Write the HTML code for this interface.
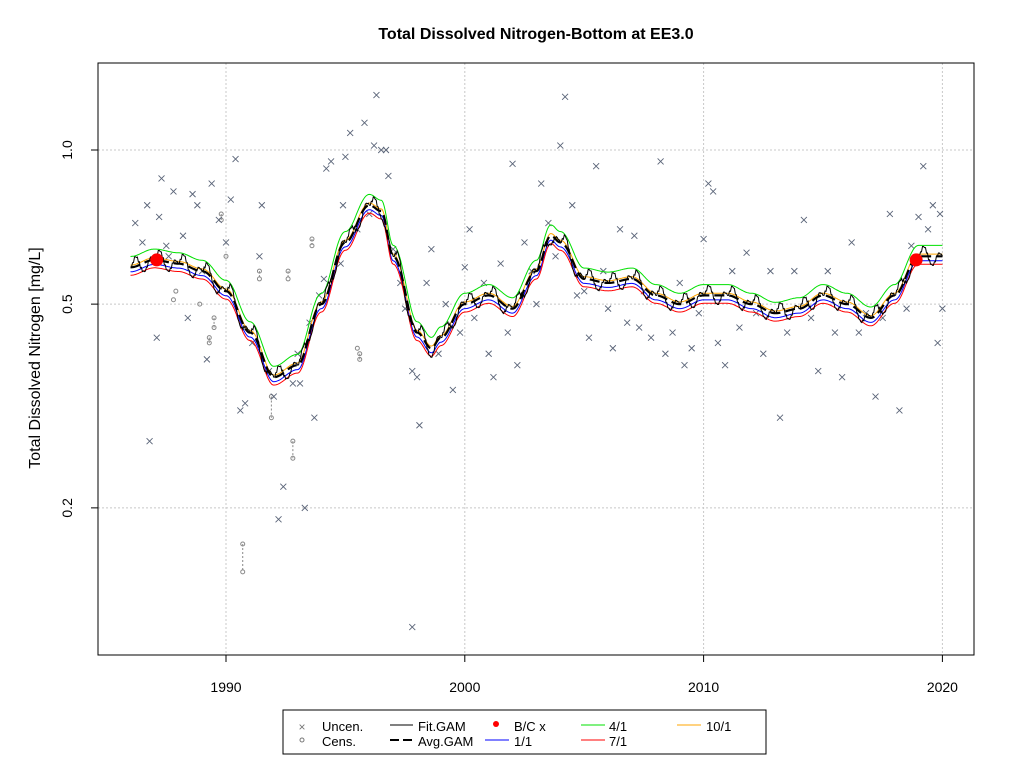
<!DOCTYPE html>
<html><head><meta charset="utf-8"><style>
body{margin:0;background:#fff;}
svg{font-family:"Liberation Sans",Arial,sans-serif;}
</style></head><body>
<svg id="chart" width="1024" height="768" xmlns="http://www.w3.org/2000/svg">
<rect width="1024" height="768" fill="#fff"/>
<text x="536" y="39" text-anchor="middle" font-size="16" font-weight="bold">Total Dissolved Nitrogen-Bottom at EE3.0</text>
<g id="grid"></g>
<g id="plot"></g>
<rect x="98" y="63" width="876" height="592" fill="none" stroke="#000"/>
<g id="axes"></g>
<text transform="translate(40,358) rotate(-90)" text-anchor="middle" font-size="16">Total Dissolved Nitrogen [mg/L]</text>
<g>
<rect x="283" y="710" width="483" height="44" fill="#fff" stroke="#000"/>
<text x="302" y="731" font-size="12" fill="#777" text-anchor="middle">×</text>
<text x="322" y="731" font-size="13">Uncen.</text>
<circle cx="302" cy="740" r="2" fill="none" stroke="#777"/>
<text x="322" y="746" font-size="13">Cens.</text>
<line x1="390" y1="725" x2="413" y2="725" stroke="#000"/>
<text x="418" y="731" font-size="13">Fit.GAM</text>
<line x1="390" y1="740" x2="413" y2="740" stroke="#000" stroke-width="2" stroke-dasharray="9,4"/>
<text x="418" y="746" font-size="13">Avg.GAM</text>
<circle cx="496" cy="724" r="3" fill="red"/>
<text x="514" y="731" font-size="13">B/C x</text>
<line x1="485" y1="740" x2="509" y2="740" stroke="blue"/>
<text x="514" y="746" font-size="13">1/1</text>
<line x1="581" y1="725" x2="605" y2="725" stroke="#00e000"/>
<text x="609" y="731" font-size="13">4/1</text>
<line x1="581" y1="740" x2="605" y2="740" stroke="red"/>
<text x="609" y="746" font-size="13">7/1</text>
<line x1="677" y1="725" x2="701" y2="725" stroke="orange"/>
<text x="706" y="731" font-size="13">10/1</text>
</g>
</svg>
<script>
const yearTicks=[1990,2000,2010,2020];
const yTicks=[0.2,0.5,1.0];
const yTickLabels=["0.2","0.5","1.0"];
const avgYears=[1986,1987,1988,1989,1990,1991,1992,1993,1994,1995,1996,1996.5,1997,1998,1998.6,1999,2000,2001,2002,2003,2003.6,2004,2005,2006,2007,2008,2009,2010,2011,2012,2013,2014,2015,2016,2017,2018,2019,2020];
const avgVals=[0.59,0.61,0.60,0.58,0.53,0.44,0.36,0.38,0.50,0.66,0.78,0.76,0.62,0.44,0.41,0.43,0.50,0.52,0.49,0.58,0.68,0.66,0.56,0.55,0.56,0.52,0.50,0.52,0.52,0.50,0.48,0.49,0.52,0.50,0.47,0.52,0.62,0.62];
const seasonFactor=[1.0,1.02,1.045,1.04,1.015,0.985,0.965,0.96,0.975,1.0,1.015,1.01];
const f11=0.98,f41=1.05,f71=0.965,f101=1.01;
const bcYears=[1987.1,2018.9];
const bcVals=[0.61,0.61];
const uncYears=[1986.2,1986.5,1986.7,1986.8,1987.1,1987.2,1987.3,1987.5,1987.6,1987.8,1988.2,1988.4,1988.6,1988.8,1989,1989.2,1989.4,1989.7,1990,1990.2,1990.4,1990.6,1990.8,1991.1,1991.4,1991.5,1991.8,1992.0,1992.2,1992.4,1992.8,1993,1993.1,1993.3,1993.5,1993.7,1993.9,1994.1,1994.2,1994.4,1994.8,1994.9,1995,1995.2,1995.5,1995.8,1996.0,1996.2,1996.3,1996.5,1996.7,1996.8,1997,1997.3,1997.5,1997.8,1998,1998.1,1998.4,1998.6,1998.9,1999.2,1999.5,1999.8,2000,2000.2,2000.4,2000.8,2001,2001.2,2001.5,2001.8,2002,2002.2,2002.5,2002.8,2003,2003.2,2003.5,2003.8,2004,2004.2,2004.5,2004.7,2005,2005.2,2005.5,2005.8,2006,2006.2,2006.5,2006.8,2007.1,2007.3,2007.5,2007.8,2008.2,2008.4,2008.7,2009.0,2009.2,2009.5,2009.8,2010,2010.2,2010.4,2010.6,2010.9,2011.2,2011.5,2011.8,2012.2,2012.5,2012.8,2013.2,2013.5,2013.8,2014.2,2014.5,2014.8,2015.2,2015.5,2015.8,2016.2,2016.5,2016.8,2017.2,2017.5,2017.8,2018.2,2018.5,2018.7,2019,2019.2,2019.4,2019.6,2019.8,2020,2019.9,1997.8];
const uncVals=[0.72,0.66,0.78,0.27,0.43,0.74,0.88,0.65,0.62,0.83,0.68,0.47,0.82,0.78,0.58,0.39,0.86,0.73,0.66,0.80,0.96,0.31,0.32,0.42,0.62,0.78,0.37,0.33,0.19,0.22,0.35,0.40,0.35,0.20,0.46,0.30,0.52,0.56,0.92,0.95,0.60,0.78,0.97,1.08,0.70,1.13,0.75,1.02,1.28,1.0,1.0,0.89,0.64,0.55,0.49,0.37,0.36,0.29,0.55,0.64,0.40,0.50,0.34,0.44,0.59,0.70,0.47,0.55,0.40,0.36,0.60,0.44,0.94,0.38,0.66,0.58,0.50,0.86,0.72,0.62,1.02,1.27,0.78,0.52,0.53,0.43,0.93,0.58,0.49,0.41,0.70,0.46,0.68,0.45,0.53,0.43,0.95,0.40,0.44,0.55,0.38,0.41,0.48,0.67,0.86,0.83,0.42,0.38,0.58,0.45,0.63,0.48,0.40,0.58,0.30,0.44,0.58,0.73,0.47,0.37,0.58,0.44,0.36,0.66,0.44,0.48,0.33,0.47,0.75,0.31,0.49,0.65,0.74,0.93,0.70,0.78,0.42,0.49,0.75,0.117];
const cenYears=[1990.7,1988.9,1989.3,1989.5,1989.8,1990.0,1991.4,1991.9,1992.6,1992.8,1993.6,1995.5,1995.6,1987.9,1987.8];
const cenHi=[0.17,0.50,0.43,0.47,0.75,0.62,0.58,0.33,0.58,0.27,0.67,0.41,0.40,0.53,0.51];
const cenLo=[0.15,0.50,0.42,0.45,0.73,0.62,0.56,0.30,0.56,0.25,0.65,0.41,0.39,0.53,0.51];

const NS="http://www.w3.org/2000/svg";
const X=yr=>226+(yr-1990)*23.88;
const Y=v=>150-512*Math.log10(v);
function mk(tag,attrs,parent){const e=document.createElementNS(NS,tag);for(const k in attrs)e.setAttribute(k,attrs[k]);parent.appendChild(e);return e;}
const grid=document.getElementById('grid'),plot=document.getElementById('plot'),axes=document.getElementById('axes');
yearTicks.forEach(t=>{
 const g=mk('line',{x1:X(t),x2:X(t),y1:63,y2:655,stroke:'#c8c8c8','stroke-dasharray':'2,2'},grid);
 
 
 const tk=mk('line',{x1:X(t),x2:X(t),y1:655,y2:662,stroke:'#000'},axes);
 
 
 const l=mk('text',{x:X(t),y:692,'text-anchor':'middle','font-size':'14'},axes);l.textContent=t;
 
 
});
yTicks.forEach((t,i)=>{
 const g=mk('line',{x1:98,x2:974,y1:Y(t),y2:Y(t),stroke:'#c8c8c8','stroke-dasharray':'2,2'},grid);
 
 
 const tk=mk('line',{x1:91,x2:98,y1:Y(t),y2:Y(t),stroke:'#000'},axes);
 
 
 const l=mk('text',{transform:`translate(72,${Y(t)}) rotate(-90)`,'text-anchor':'middle','font-size':'14'},axes);l.textContent=yTickLabels[i];
 
 
});
cenYears.forEach((yr,i)=>{
 if(cenHi[i]!==cenLo[i]){const d=mk('line',{x1:X(yr),x2:X(yr),y1:Y(cenHi[i]),y2:Y(cenLo[i]),stroke:'#888','stroke-dasharray':'2,2'},plot);
 
 
 const c2=mk('circle',{cx:X(yr),cy:Y(cenLo[i]),r:2,fill:'none',stroke:'#888'},plot);
 
 }
 const c=mk('circle',{cx:X(yr),cy:Y(cenHi[i]),r:2,fill:'none',stroke:'#888'},plot);
 
 
});
uncYears.forEach((yr,i)=>{
 const x=X(yr),y=Y(uncVals[i]);
 const p=mk('path',{d:`M${x-3},${y-3}L${x+3},${y+3}M${x-3},${y+3}L${x+3},${y-3}`,stroke:'#5a6478','stroke-width':'0.9'},plot);
 
 
});
function interp(t){
 if(t<=avgYears[0])return avgVals[0];
 for(let i=0;i<avgYears.length-1;i++){if(t<=avgYears[i+1]){
  const u=(t-avgYears[i])/(avgYears[i+1]-avgYears[i]);const w=(1-Math.cos(Math.PI*u))/2;
  return avgVals[i]*(1-w)+avgVals[i+1]*w;}}
 return avgVals[avgVals.length-1];
}
function line(fn,attrs,name){
 let d='';for(let t=1986;t<=2020.001;t+=1/24){d+=(d?'L':'M')+X(t).toFixed(1)+','+Y(fn(t)).toFixed(1);}
 const p=mk('path',Object.assign({d:d,fill:'none'},attrs),plot);
 
 
}
line(t=>interp(t)*f11,{stroke:'blue','stroke-width':1},'series-1-1');
line(t=>interp(t)*f41,{stroke:'#00e000','stroke-width':1},'series-4-1');
line(t=>interp(t)*f71,{stroke:'red','stroke-width':1},'series-7-1');
line(t=>interp(t)*f101,{stroke:'orange','stroke-width':1},'series-10-1');
line(t=>{const m=Math.floor(((t%1)+1)%1*12)%12;return interp(t)*seasonFactor[m];},{stroke:'#000','stroke-width':1},'fit-gam');
line(t=>interp(t),{stroke:'#000','stroke-width':2.2,'stroke-dasharray':'10,5'},'avg-gam');
bcYears.forEach((yr,i)=>{
 const c=mk('circle',{cx:X(yr),cy:Y(bcVals[i]),r:6.5,fill:'red'},plot);
 
 
});
</script>
</body></html>
